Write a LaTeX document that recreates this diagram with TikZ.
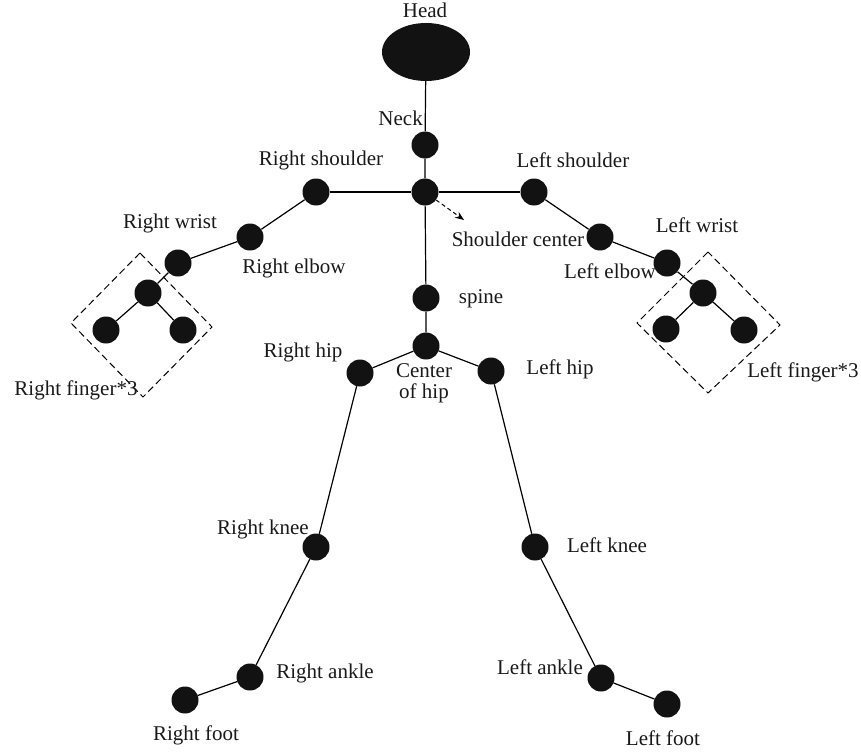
\documentclass[tikz,border=0pt]{standalone}
\usepackage{fontspec}
\setmainfont{Liberation Serif}
\usetikzlibrary{arrows.meta,shapes.geometric}
\begin{document}
\begin{tikzpicture}[x=1pt,y=-1pt,
  joint/.style={circle,fill=black!93,inner sep=0pt,minimum size=27pt},
  lbl/.style={font=\fontsize{21}{23}\selectfont,inner sep=0pt,text=black!90},
  bone/.style={line width=1.2pt},
  box/.style={line width=1pt,dash pattern=on 7pt off 4pt}]
\useasboundingbox (0,0) rectangle (861,752);
% head
\node[ellipse,fill=black!93,minimum width=88pt,minimum height=58pt,inner sep=0pt] (head) at (426,52) {};
\node[joint] (neck) at (425,145) {};
\node[joint] (sc) at (425,192) {};
\node[joint] (rs) at (316,192) {};
\node[joint] (ls) at (534,192) {};
\node[joint] (re) at (250,237) {};
\node[joint] (rw) at (178,263) {};
\node[joint] (rh) at (148,293) {};
\node[joint] (rf1) at (106,330) {};
\node[joint] (rf2) at (183,330) {};
\node[joint] (le) at (600,237) {};
\node[joint] (lw) at (667,263) {};
\node[joint] (lh) at (703,293) {};
\node[joint] (lf1) at (666,329) {};
\node[joint] (lf2) at (744,330) {};
\node[joint] (sp) at (426,298) {};
\node[joint] (ch) at (426,346) {};
\node[joint] (rhip) at (360,373) {};
\node[joint] (lhip) at (491,371) {};
\node[joint] (rk) at (316,547) {};
\node[joint] (lk) at (535,547) {};
\node[joint] (ra) at (250,677) {};
\node[joint] (rft) at (185,700) {};
\node[joint] (la) at (601,678) {};
\node[joint] (lft) at (667,704) {};
% bones
\draw[bone] (head) -- (neck) -- (sc) -- (sp) -- (ch);
\draw[bone] (rs) -- (sc) -- (ls);
\draw[bone] (rs) -- (re) -- (rw) -- (rh) -- (rf1);
\draw[bone] (rh) -- (rf2);
\draw[bone] (ls) -- (le) -- (lw) -- (lh) -- (lf1);
\draw[bone] (lh) -- (lf2);
\draw[bone] (rhip) -- (ch) -- (lhip);
\draw[bone] (rhip) -- (rk) -- (ra) -- (rft);
\draw[bone] (lhip) -- (lk) -- (la) -- (lft);
% arrow
\coordinate (arr) at (464,220);
\draw[line width=1pt,dash pattern=on 4pt off 3pt,-{Stealth[length=9pt,width=7pt]}] (sc) -- (arr);
% dashed boxes
\coordinate (rb1) at (140,253); \coordinate (rb2) at (71,323);
\coordinate (rb3) at (143,397); \coordinate (rb4) at (212,327);
\draw[box] (rb1) -- (rb2) -- (rb3) -- (rb4) -- cycle;
\coordinate (lb1) at (708,252); \coordinate (lb2) at (637,323);
\coordinate (lb3) at (708,393); \coordinate (lb4) at (780,325);
\draw[box] (lb1) -- (lb2) -- (lb3) -- (lb4) -- cycle;
% labels
\node[lbl] (tHead) at (425,10) {Head};
\node[lbl,anchor=east] (tNeck) at (423,118) {Neck};
\node[lbl] (tRs) at (321,160) {Right shoulder};
\node[lbl] (tLs) at (573,160) {Left shoulder};
\node[lbl] (tRw) at (170,223) {Right wrist};
\node[lbl] (tRe) at (294,268) {Right elbow};
\node[lbl] (tSc) at (518,239) {Shoulder center};
\node[lbl] (tLw) at (697,225) {Left wrist};
\node[lbl] (tLe) at (610,271) {Left elbow};
\node[lbl] (tSp) at (481,299) {spine};
\node[lbl] (tRhip) at (303,352) {Right hip};
\node[lbl] (tCh1) at (424,371) {Center};
\node[lbl] (tCh2) at (424,393) {of hip};
\node[lbl] (tLhip) at (560,369) {Left hip};
\node[lbl] (tRf) at (76,390) {Right finger*3};
\node[lbl] (tLf) at (803,372) {Left finger*3};
\node[lbl] (tRk) at (263,529) {Right knee};
\node[lbl] (tLk) at (607,545) {Left knee};
\node[lbl] (tRa) at (325,673) {Right ankle};
\node[lbl] (tLa) at (540,667) {Left ankle};
\node[lbl] (tRft) at (196,735) {Right foot};
\node[lbl] (tLft) at (663,738) {Left foot};
\end{tikzpicture}
\end{document}
